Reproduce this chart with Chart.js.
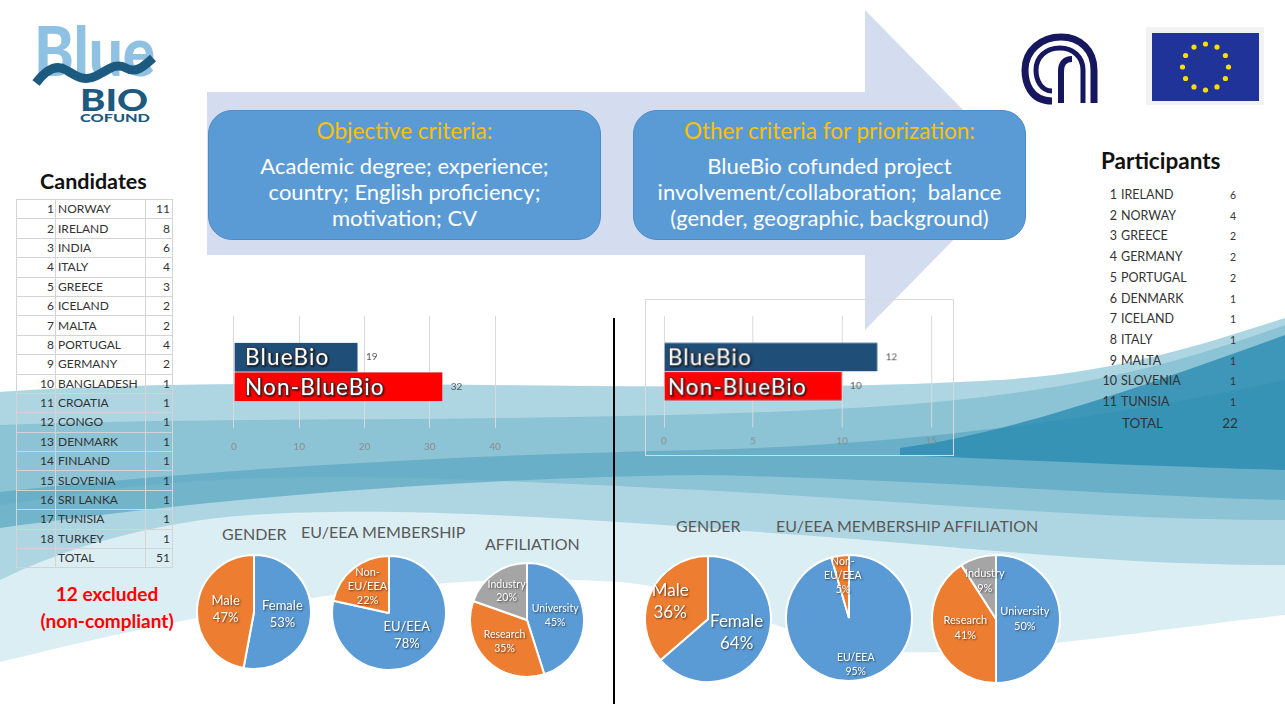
<!DOCTYPE html>
<html>
<head>
<meta charset="utf-8">
<script src="https://cdn.jsdelivr.net/npm/chart.js@4.4.1/dist/chart.umd.min.js"></script>
<style>
body { margin: 0; background: #fff; font-family: Lato, "Liberation Sans", sans-serif; }
#slide { position: relative; width: 1285px; height: 704px; overflow: hidden; }
#bg { position: absolute; left: 0; top: 0; }
.box { position: absolute; top: 110px; width: 393px; height: 130px; background: #5b9bd5; border: 1px solid #4e8cc6;
  border-radius: 24px; box-sizing: border-box; color: #fff; text-align: center; }
.box .t { color: #ffc000; font-size: 22.5px; margin-top: 7px; height: 35px; line-height: 26px; }
.box .b { font-size: 22px; line-height: 26px; }
.title { position: absolute; font-weight: bold; color: #111; }
.pt { position: absolute; color: #595959; font-size: 16px; white-space: nowrap; }
#cand { position: absolute; left: 16px; top: 199px; border-collapse: collapse; font-size: 12px; color: #333; }
#cand td { border: 1px solid #d4d4d4; height: 18.4px; padding: 0 2px; line-height: 12px; }
#cand td.n { width: 35px; text-align: right; padding-right: 1px; }
#cand td.c { width: 85px; }
#cand td.v { width: 22px; text-align: right; }
.prow { position: absolute; font-size: 12.5px; color: #333; white-space: nowrap; }
canvas { position: absolute; }
</style>
</head>
<body>
<div id="slide">
<svg id="bg" width="1285" height="704">
  <!-- wave background -->
  <path fill="#dbeef4" d="M0,392 C300,372 700,398 1000,380 C1120,372 1200,345 1285,318 L1285,615 C1150,630 1000,655 900,652 C800,650 720,590 620,582 C450,570 250,600 0,662 Z"/>
  <path fill="#aed6e2" d="M0,392 C300,372 700,398 1000,380 C1120,372 1200,345 1285,318 L1285,565 C1100,565 950,545 800,535 C600,520 400,505 250,515 C150,522 60,550 0,580 Z"/>
  <path fill="#86c0d2" opacity="0.85" d="M0,425 C250,415 600,425 900,405 C1100,390 1200,355 1285,325 L1285,520 C1100,520 900,500 700,490 C500,480 300,470 150,485 C90,490 40,500 0,505 Z"/>
  <path fill="#5ea8c1" opacity="0.75" d="M0,492 C200,470 450,455 700,450 C900,445 1100,420 1285,380 L1285,500 C1100,495 900,478 700,475 C450,478 200,500 0,528 Z"/>
  <path fill="#2a8cb0" opacity="0.8" d="M900,448 C1000,435 1120,395 1285,335 L1285,470 C1150,466 1020,460 900,455 Z"/>
  <!-- arrow -->
  <polygon fill="#d4ddef" points="207,92 865,92 865,10 1022,170 865,330 865,255 207,255"/>
  <!-- BlueBio logo -->
  <text x="34" y="76" font-family="Lato" font-weight="900" font-size="68" fill="#8fc1e3" textLength="121" lengthAdjust="spacingAndGlyphs">Blue</text>
  <path d="M36,83 C46,70 56,64 66,70 C76,76 84,82 96,76 C108,70 116,62 126,68 C136,74 144,66 153,58" stroke="#1d5a80" stroke-width="9" fill="none"/>
  <text x="80" y="111" font-family="Lato" font-weight="900" font-size="30" fill="#1d5a80" textLength="68" lengthAdjust="spacingAndGlyphs">BIO</text>
  <text x="80" y="122" font-family="Lato" font-weight="900" font-size="10.5" fill="#1d5a80" textLength="70" lengthAdjust="spacingAndGlyphs">COFUND</text>
  <!-- CNR logo -->
  <g stroke="#16175f" fill="none" stroke-linecap="butt">
    <path d="M1052,101 C1030,101 1025,82 1025,70 C1025,50 1042,37 1061,37 C1080,37 1094,50 1094,70 L1094,103" stroke-width="7"/>
    <path d="M1052,91 C1041,91 1036,80 1036,70 C1036,57 1046,48 1060,48 C1073,48 1083,57 1083,70 L1083,103" stroke-width="5"/>
    <path d="M1061,103 L1061,71 C1061,63 1065,59 1072,59" stroke-width="6"/>
  </g>
  <!-- EU flag -->
  <rect x="1146" y="27" width="118" height="78" fill="#f2f2f2"/>
  <rect x="1152" y="33" width="107" height="68" fill="#1f3399"/>
  <g id="stars" fill="#ffdd00"></g>
  <!-- divider -->
  <line x1="614" y1="318" x2="614" y2="704" stroke="#000" stroke-width="2"/>
</svg>

<div class="box" style="left:208px">
  <div class="t">Objective criteria:</div>
  <div class="b">Academic degree; experience;<br>country; English proficiency;<br>motivation; CV</div>
</div>
<div class="box" style="left:633px">
  <div class="t">Other criteria for priorization:</div>
  <div class="b">BlueBio cofunded project<br>involvement/collaboration;&nbsp; balance<br>(gender, geographic, background)</div>
</div>

<div class="title" style="left:40px;top:168px;font-size:21.5px">Candidates</div>
<table id="cand"></table>
<div style="position:absolute;left:12px;width:190px;top:580px;text-align:center;color:#ff0000;font-weight:bold;font-size:19px;line-height:27px">12 excluded<br>(non-compliant)</div>

<div class="title" style="left:1101px;top:147px;font-size:22.5px">Participants</div>
<div id="part"></div>

<canvas id="bar1" width="300" height="168" style="left:218px;top:306px"></canvas>
<canvas id="bar2" width="309" height="157" style="left:645px;top:299px;border:1px solid #d9d9d9"></canvas>

<div class="pt" style="left:222px;top:524px">GENDER</div>
<div class="pt" style="left:301px;top:522px">EU/EEA MEMBERSHIP</div>
<div class="pt" style="left:485px;top:534px">AFFILIATION</div>
<div class="pt" style="left:676px;top:516px">GENDER</div>
<div class="pt" style="left:776px;top:516px">EU/EEA MEMBERSHIP AFFILIATION</div>

<canvas id="pie1"></canvas>
<canvas id="pie2"></canvas>
<canvas id="pie3"></canvas>
<canvas id="pie4"></canvas>
<canvas id="pie5"></canvas>
<canvas id="pie6"></canvas>
</div>

<script>
// data
const programmeLabels = ['BlueBio', 'Non-BlueBio'];
const candidatesByProgramme = [19, 32];
const participantsByProgramme = [12, 10];
const candidatesTicks = [0, 10, 20, 30, 40];
const participantsTicks = [0, 5, 10, 15];

const genderLabels = ['Female', 'Male'];
const candidatesGender = [27, 24];
const participantsGender = [14, 8];
const membershipLabels = ['EU/EEA', 'Non-EU/EEA'];
const candidatesMembership = [40, 11];
const participantsMembership = [21, 1];
const affiliationLabels = ['University', 'Research', 'Industry'];
const candidatesAffiliation = [23, 18, 10];
const participantsAffiliation = [11, 9, 2];

const candidateCountries = ['NORWAY', 'IRELAND', 'INDIA', 'ITALY', 'GREECE', 'ICELAND', 'MALTA', 'PORTUGAL', 'GERMANY',
  'BANGLADESH', 'CROATIA', 'CONGO', 'DENMARK', 'FINLAND', 'SLOVENIA', 'SRI LANKA', 'TUNISIA', 'TURKEY'];
const candidateCounts = [11, 8, 6, 4, 3, 2, 2, 4, 2, 1, 1, 1, 1, 1, 1, 1, 1, 1];
const participantCountries = ['IRELAND', 'NORWAY', 'GREECE', 'GERMANY', 'PORTUGAL', 'DENMARK', 'ICELAND', 'ITALY',
  'MALTA', 'SLOVENIA', 'TUNISIA'];
const participantCounts = [6, 4, 2, 2, 2, 1, 1, 1, 1, 1, 1];

const barColors = ['#1f4e79', '#ff0000'];
const sliceColors = ['#5b9bd5', '#ed7d31', '#a5a5a5'];
const sum = arr => arr.reduce((a, b) => a + b, 0);

// EU stars
const stars = document.getElementById('stars');
for (let i = 0; i < 12; i++) {
  const a = i * Math.PI / 6;
  const c = document.createElementNS('http://www.w3.org/2000/svg', 'circle');
  c.setAttribute('cx', 1205.5 + 23 * Math.sin(a));
  c.setAttribute('cy', 67 - 23 * Math.cos(a));
  c.setAttribute('r', 2.6);
  stars.appendChild(c);
}

// candidates table
const cand = document.getElementById('cand');
candidateCountries.forEach((c, i) => {
  const tr = cand.insertRow();
  tr.innerHTML = `<td class="n">${i + 1}</td><td class="c">${c}</td><td class="v">${candidateCounts[i]}</td>`;
});
cand.insertRow().innerHTML = `<td class="n"></td><td class="c">TOTAL</td><td class="v">${sum(candidateCounts)}</td>`;

// participants list
const part = document.getElementById('part');
participantCountries.forEach((c, i) => {
  const y = 187 + i * 20.7;
  part.insertAdjacentHTML('beforeend',
    `<div class="prow" style="left:1090px;top:${y}px;width:27px;text-align:right">${i + 1}</div>` +
    `<div class="prow" style="left:1121px;top:${y}px">${c}</div>` +
    `<div class="prow" style="left:1223px;top:${y + 2}px;width:20px;text-align:center;font-size:10.5px">${participantCounts[i]}</div>`);
});
part.insertAdjacentHTML('beforeend',
  `<div class="prow" style="left:1122px;top:${187 + 11 * 20.7}px;font-size:13.5px">TOTAL</div>` +
  `<div class="prow" style="left:1218px;top:${187 + 11 * 20.7}px;width:24px;text-align:center;font-size:13.5px">${sum(participantCounts)}</div>`);

// bar labels: series name inside the bar, value after it
const barText = {
  id: 'barText',
  afterDatasetsDraw(chart, args, opts) {
    const ctx = chart.ctx;
    const x0 = chart.scales.x.getPixelForValue(0);
    chart.data.datasets.forEach((ds, i) => {
      const bar = chart.getDatasetMeta(i).data[0];
      ctx.save();
      ctx.textBaseline = 'middle';
      ctx.font = '22.5px Lato';
      ctx.letterSpacing = '1.2px';
      ctx.shadowColor = 'rgba(0,0,0,0.8)';
      ctx.shadowBlur = 2;
      ctx.shadowOffsetX = 1;
      ctx.shadowOffsetY = 1;
      ctx.lineWidth = 1.5;
      ctx.strokeStyle = '#444';
      ctx.strokeText(ds.label, x0 + opts.inset, bar.y + 1);
      ctx.shadowColor = 'transparent';
      ctx.fillStyle = '#fff';
      ctx.fillText(ds.label, x0 + opts.inset, bar.y + 1);
      ctx.letterSpacing = '0px';
      ctx.font = '10px Lato';
      ctx.fillStyle = '#595959';
      ctx.fillText(ds.data[0], bar.x + 8, bar.y);
      ctx.restore();
    });
  }
};

function makeBar(id, values, ticks, pad, tickPad, catPct, inset) {
  new Chart(document.getElementById(id), {
    type: 'bar',
    data: {
      labels: [''],
      datasets: programmeLabels.map((l, i) => ({
        label: l, data: [values[i]], backgroundColor: barColors[i], borderColor: '#9db3c8', borderWidth: 0.5
      }))
    },
    options: {
      indexAxis: 'y',
      responsive: false,
      animation: false,
      layout: { padding: pad },
      datasets: { bar: { categoryPercentage: catPct, barPercentage: 1 } },
      scales: {
        x: {
          min: ticks[0], max: ticks[ticks.length - 1],
          afterBuildTicks: s => { s.ticks = ticks.map(v => ({ value: v })); },
          ticks: { color: '#8c8c8c', font: { size: 10, family: 'Lato' }, padding: tickPad },
          grid: { color: '#d9d9d9', drawTicks: false },
          border: { display: false }
        },
        y: { display: false }
      },
      plugins: { legend: { display: false }, tooltip: { enabled: false }, barText: { inset: inset } }
    },
    plugins: [barText]
  });
}
makeBar('bar1', candidatesByProgramme, candidatesTicks, { left: 10, right: 23, top: 10, bottom: 8 }, 13, 0.527, 11);
makeBar('bar2', participantsByProgramme, participantsTicks, { left: 18, right: 22, top: 16, bottom: 0 }, 8, 0.523, 4);

// pie labels: name + percentage at the slice centre
const pieText = {
  id: 'pieText',
  afterDatasetsDraw(chart, args, opts) {
    const ctx = chart.ctx;
    const data = chart.data.datasets[0].data;
    const total = sum(data);
    chart.getDatasetMeta(0).data.forEach((arc, i) => {
      const mid = (arc.startAngle + arc.endAngle) / 2;
      const r = arc.outerRadius * opts.pos[i];
      const x = arc.x + Math.cos(mid) * r;
      const y = arc.y + Math.sin(mid) * r;
      const name = chart.data.labels[i];
      const lines = name.startsWith('Non-') ? ['Non-', name.slice(4)] : [name];
      lines.push(Math.round(data[i] / total * 100) + '%');
      const size = opts.size[i];
      const lh = size * 1.3;
      ctx.save();
      ctx.font = size + 'px Lato';
      ctx.textAlign = 'center';
      ctx.textBaseline = 'middle';
      ctx.fillStyle = '#fff';
      ctx.shadowColor = 'rgba(0,0,0,0.6)';
      ctx.shadowBlur = 2;
      ctx.shadowOffsetX = 1;
      ctx.shadowOffsetY = 1;
      lines.forEach((t, k) => ctx.fillText(t, x, y + (k - (lines.length - 1) / 2) * lh));
      ctx.restore();
    });
  }
};

function makePie(id, cx, cy, r, labels, values, size, pos) {
  const cv = document.getElementById(id);
  cv.width = cv.height = 2 * r + 2;
  cv.style.left = (cx - r - 1) + 'px';
  cv.style.top = (cy - r - 1) + 'px';
  new Chart(cv, {
    type: 'pie',
    data: { labels: labels, datasets: [{ data: values, backgroundColor: sliceColors, borderColor: '#fff', borderWidth: 2 }] },
    options: {
      responsive: false,
      animation: false,
      plugins: { legend: { display: false }, tooltip: { enabled: false }, pieText: { size: size, pos: pos } }
    },
    plugins: [pieText]
  });
}
makePie('pie1', 254, 612, 57, genderLabels, candidatesGender, [13, 13], [0.5, 0.5]);
makePie('pie2', 389, 613, 57, membershipLabels, candidatesMembership, [13, 11], [0.5, 0.6]);
makePie('pie3', 527, 620, 57, affiliationLabels, candidatesAffiliation, [10.5, 10.5, 10.5], [0.5, 0.55, 0.62]);
makePie('pie4', 708, 619, 63, genderLabels, participantsGender, [17, 17], [0.5, 0.66]);
makePie('pie5', 849, 618, 63, membershipLabels, participantsMembership, [10.5, 10.5], [0.75, 0.68]);
makePie('pie6', 996, 619, 64, affiliationLabels, participantsAffiliation, [11, 11, 11], [0.45, 0.5, 0.62]);
</script>
</body>
</html>
